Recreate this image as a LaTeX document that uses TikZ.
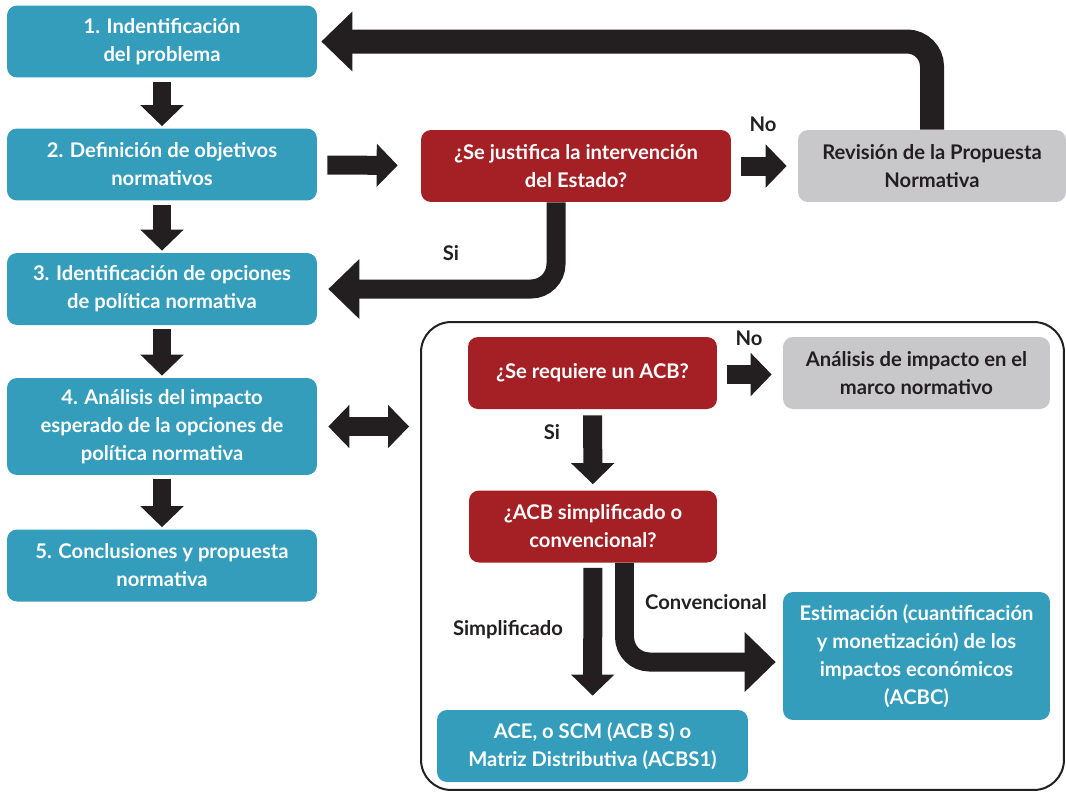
\documentclass[tikz,border=0pt]{standalone}
\usepackage{fontspec}
\setmainfont{Lato}
\usetikzlibrary{positioning,arrows.meta}

\definecolor{azul}{RGB}{52,157,187}
\definecolor{rojo}{RGB}{165,32,37}
\definecolor{gris}{RGB}{200,200,202}
\definecolor{negro}{RGB}{35,31,32}

\begin{document}
\begin{tikzpicture}[x=0.02cm, y=-0.02cm,
  caja/.style = {rounded corners=0.2cm, align=center, inner sep=0pt,
    font=\bfseries\fontsize{11.5}{15.9}\selectfont, minimum height=1.44cm},
  azul/.style = {caja, fill=azul, text=white},
  rojo/.style = {caja, fill=rojo, text=white},
  gris/.style = {caja, fill=gris, text=negro},
  etiq/.style = {font=\bfseries\fontsize{11.5}{13}\selectfont, text=negro},
  flecha/.style = {draw=negro, line width=0.38cm,
    -{Triangle[width=0.84cm,length=0.42cm]}},
  flechad/.style = {draw=negro, line width=0.38cm,
    {Triangle[width=0.84cm,length=0.42cm]}-{Triangle[width=0.84cm,length=0.42cm]}},
  codo/.style = {draw=negro, line width=0.38cm, rounded corners=0.5cm,
    -{Triangle[width=1.16cm,length=0.62cm]}}]
\useasboundingbox (0,0) rectangle (1066,792);

% columna izquierda
\node[azul, minimum width=6.2cm] (b1) at (162,41.5) {1. Indentificación\\del problema};
\node[azul, minimum width=6.2cm] (b2) at (162,164.5) {2. Definición de objetivos\\normativos};
\node[azul, minimum width=6.2cm] (b3) at (162,289) {3. Identificación de opciones\\de política normativa};
\node[azul, minimum width=6.2cm, minimum height=1.94cm] (b4) at (162,426.5)
  {4. Análisis del impacto\\esperado de la opciones de\\política normativa};
\node[azul, minimum width=6.2cm] (b5) at (162,565.5) {5. Conclusiones y propuesta\\normativa};

% intervencion
\node[rojo, minimum width=6.2cm] (r1) at (576,166) {¿Se justifica la intervención\\del Estado?};
\node[gris, minimum width=5.36cm] (g1) at (932,166) {Revisión de la Propuesta\\Normativa};

% recuadro ACB
\node[draw=negro, line width=0.04cm, rounded corners=0.6cm,
  minimum width=12.86cm, minimum height=9.36cm] (marco) at (742.5,556) {};
\node[rojo, minimum width=4.98cm] (r2) at (592.5,373) {¿Se requiere un ACB?};
\node[gris, minimum width=5.34cm] (g2) at (916.5,373) {Análisis de impacto en el\\marco normativo};
\node[rojo, minimum width=4.96cm] (r3) at (593,526.5) {¿ACB simplificado o\\convencional?};
\node[azul, minimum width=6.22cm] (ace) at (592.5,746) {ACE, o SCM (ACB S) o\\Matriz Distributiva (ACBS1)};
\node[azul, minimum width=5.34cm, minimum height=2.56cm] (est) at (916.5,656)
  {Estimación (cuantificación\\y monetización) de los\\impactos económicos\\(ACBC)};

% etiquetas
\node[etiq] (no1) at (763,124) {No};
\node[etiq] (si1) at (451,253) {Si};
\node[etiq] (no2) at (749,338) {No};
\node[etiq] (si2) at (552,432) {Si};
\node[etiq] (simp) at (508,630) {Simplificado};
\node[etiq] (conv) at (706,602) {Convencional};

% flechas
\draw[flecha, shorten <=0.08cm, shorten >=0.04cm] (b1) -- (b2);
\draw[flecha, shorten <=0.08cm, shorten >=0.04cm] (b2) -- (b3);
\draw[flecha, shorten <=0.08cm, shorten >=0.04cm] (b3) -- (b4);
\draw[flecha, shorten <=0.08cm, shorten >=0.04cm] (b4) -- (b5);
\draw[flecha, shorten <=0.2cm, shorten >=0.46cm] (b2) -- (r1);
\draw[flecha, shorten <=0.2cm, shorten >=0.22cm] (r1) -- (g1);
\draw[codo, line width=0.48cm, shorten >=0.08cm] (g1.north) |- (b1.east);
\draw[codo, shorten >=0.22cm] ([xshift=-0.4cm]r1.south) |- (b3.east);
\draw[flechad, shorten <=0.22cm, shorten >=0.22cm] (b4.east) -- (b4.east -| marco.west);
\draw[flecha, shorten <=0.2cm, shorten >=0.22cm] ([yshift=-0.03cm]r2.east) -- ([yshift=-0.03cm]g2.west);
\draw[flecha, shorten <=0.12cm, shorten >=0.12cm] (r2) -- (r3);
\draw[flecha, shorten <=0.1cm, shorten >=0.28cm] (r3) -- (ace);
\draw[codo, shorten >=0.14cm] ([xshift=0.63cm]r3.south) |- ([yshift=-0.12cm]est.west);
\end{tikzpicture}
\end{document}
